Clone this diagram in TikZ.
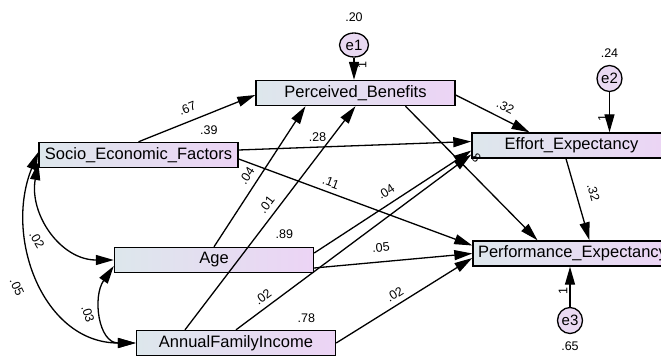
\documentclass[tikz,border=0pt]{standalone}
\usepackage{fontspec}
\setmainfont{Liberation Sans}
\usetikzlibrary{arrows.meta,positioning,shapes.geometric}
\definecolor{boxleft}{RGB}{221,231,236}
\definecolor{boxright}{RGB}{236,212,245}
\definecolor{errfill}{RGB}{233,217,242}
\tikzset{
  var/.style={draw,line width=1.4pt,left color=boxleft,right color=boxright,
    minimum width=199pt,minimum height=25pt,inner sep=0pt,
    font=\fontsize{16.5}{18}\selectfont},
  err/.style={draw,ellipse,line width=1.3pt,fill=errfill,inner sep=0pt,
    font=\fontsize{15}{16}\selectfont},
  est/.style={inner sep=0pt,font=\fontsize{12.5}{14}\selectfont},
  path/.style={line width=1.3pt,-{Triangle[length=18pt,width=10pt]}},
  cov/.style={line width=1.3pt,{Triangle[length=18pt,width=10pt]}-{Triangle[length=18pt,width=10pt]}}
}
\begin{document}
\begin{tikzpicture}[x=1pt,y=-1pt]
\useasboundingbox (0,0) rectangle (661,356);

% observed variables
\node[var] (pb) at (355.5,93) {Perceived\_Benefits};
\node[var] (sef) at (138.5,155) {Socio\_Economic\_Factors};
\node[var] (ee) at (571.5,145.5) {Effort\_Expectancy};
\node[var] (age) at (214,260) {Age};
\node[var] (afi) at (236,343) {AnnualFamilyIncome};
\node[var] (pe) at (572.5,253.5) {Performance\_Expectancy};

% error terms
\node[err,minimum width=29pt,minimum height=24pt] (e1) at (354,45) {e1};
\node[err,minimum width=25pt,minimum height=26pt] (e2) at (609.5,78.5) {e2};
\node[err,minimum width=25pt,minimum height=26pt] (e3) at (570,320.5) {e3};

% variances
\node[est,above=11pt of e1] (ve1) {.20};
\node[est,above=7pt of e2] (ve2) {.24};
\node[est,below=7pt of e3] (ve3) {.65};
\node[est,above left=7pt and 21pt of sef.north east] (vsef) {.39};
\node[est,above left=8pt and 21pt of age.north east] (vage) {.89};
\node[est,above left=7pt and 21pt of afi.north east] (vafi) {.78};

% regression weights
\draw[path] (e1) -- (e1 |- pb.north) node[est,pos=.5,right=8pt,rotate=90] {1};
\draw[path] (e2) -- (e2 |- ee.north) node[est,pos=.55,left=7pt,rotate=90] {1};
\draw[path] (e3) -- (e3 |- pe.south) node[est,pos=.5,left=7pt,rotate=90] {1};
\draw[path] (sef.north) -- ([yshift=-2pt]pb.west) node[est,pos=.46,sloped,above=8pt] {.67};
\draw[path] ([yshift=5pt]sef.east) -- ([yshift=4pt]ee.west) node[est,pos=.34,sloped,above=5pt] {.28};
\draw[path] ([yshift=-4pt]sef.east) -- ([yshift=8pt]pe.west) node[est,pos=.38,sloped,above=5pt] {.11};
\draw[path] (age.north) -- ([xshift=-50pt]pb.south) node[est,pos=.46,sloped,above=6pt] {.04};
\draw[path] ([xshift=-51pt]afi.north) -- (pb.south) node[est,pos=.53,sloped,above=6pt] {.01};
\draw[path] ([yshift=7pt]age.east) -- ([yshift=-5pt]ee.west) node[est,pos=.5,sloped,above=7pt] {.04};
\draw[path] (afi.north) -- ([yshift=-9pt]ee.west) node[est,pos=.14,sloped,above=5pt] {.02};
\draw[path] ([yshift=-8pt]age.east) -- (pe.west) node[est,pos=.43,sloped,above=9pt] {.05};
\draw[path] (afi.east) -- ([yshift=-4.5pt]pe.west) node[est,pos=.47,sloped,above=5pt] {.02};
\draw[path] ([yshift=-2pt]pb.east) -- ([xshift=-42pt]ee.north) node[est,pos=.6,sloped,above=7pt] {.32};
\draw[path] ([xshift=50pt]pb.south) -- ([xshift=-35pt]pe.north) node[est,pos=.46,sloped,above=9pt] {8};
\draw[path] ([xshift=-5.5pt]ee.south) -- ([xshift=17pt]pe.north) node[est,pos=.47,sloped,above=12pt] {.32};

% covariances
\draw[cov] (age.west) to[out=180,in=-100,looseness=1.1] ([yshift=-7pt]sef.west);
\draw[cov] (afi.west) to[out=180,in=-112,looseness=1.1] ([yshift=3pt]sef.west);
\draw[cov] (afi.west) to[out=180,in=-125,looseness=1.2] ([yshift=-6pt]age.west);
\node[est,rotate=-60] (csa) at (37,240) {.02};
\node[est,rotate=-65] (csf) at (17,287) {.05};
\node[est,rotate=-72] (caf) at (88,314) {.03};
\end{tikzpicture}
\end{document}
